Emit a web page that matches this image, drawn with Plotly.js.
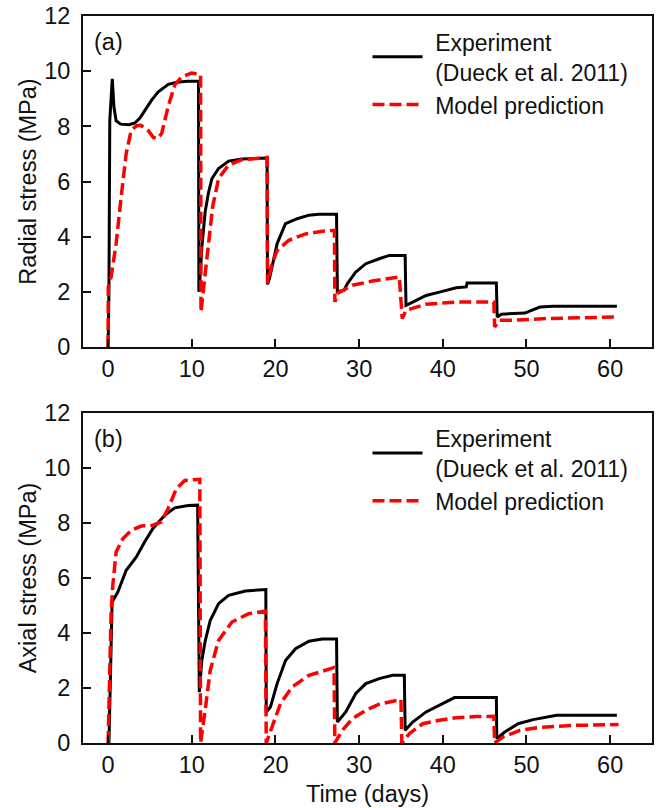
<!DOCTYPE html>
<html>
<head>
<meta charset="utf-8">
<script src="https://cdn.plot.ly/plotly-3.0.1.min.js"></script>
<style>
  html, body { margin: 0; padding: 0; background: #ffffff; }
  #chart { width: 659px; height: 808px; }
</style>
</head>
<body>
<div id="chart"></div>
<script>
// Radial stress (panel a): experiment vs model, time in days
const radialExpDays = [0, 0.1, 0.2, 0.3, 0.5, 0.7, 0.96, 1.5, 2.5, 3.2, 3.8, 4.4, 5.2, 6.0, 7.2, 8.2, 9.5, 10.8,
  10.85, 11.0, 11.2, 11.6, 12.0, 12.4, 13.2, 14.4, 16.0, 19.0,
  19.05, 19.3, 19.6, 20.2, 21.2, 22.6, 24.0, 25.2, 27.3,
  27.4, 28.2, 28.6, 29.6, 30.8, 32.4, 33.6, 35.5,
  35.6, 36.4, 38.0, 39.6, 41.6, 42.8, 42.9, 46.4,
  46.5, 47.0, 49.8, 50.6, 51.6, 53.2, 60.8];
const radialExpMPa = [0, 2.0, 8.2, 8.9, 9.72, 8.7, 8.2, 8.08, 8.06, 8.12, 8.3, 8.58, 8.95, 9.25, 9.52, 9.6, 9.63, 9.63,
  2.0, 2.6, 3.6, 4.9, 5.6, 6.1, 6.47, 6.74, 6.82, 6.85,
  2.27, 2.5, 2.9, 3.75, 4.47, 4.65, 4.78, 4.81, 4.81,
  2.0, 2.06, 2.3, 2.72, 3.02, 3.2, 3.32, 3.32,
  1.51, 1.63, 1.87, 1.99, 2.15, 2.18, 2.32, 2.32,
  1.09, 1.19, 1.23, 1.33, 1.45, 1.48, 1.48];

const radialModelDays = [0, 0.02, 0.36, 0.96, 1.56, 2.16, 2.76, 3.4, 3.9, 4.76, 5.4, 5.9, 6.4, 7.16, 7.96, 8.76, 9.96, 10.96,
  11.05, 11.1, 11.56, 12.0, 12.5, 13.2, 14.4, 16.0, 19.0,
  19.05, 19.6, 20.2, 21.6, 23.6, 25.6, 27.05,
  27.1, 27.4, 29.2, 31.6, 34.8,
  35.15, 35.6, 38.0, 41.6, 44.4, 46.1,
  46.2, 46.8, 48.4, 52.4, 61.0];
const radialModelMPa = [0, 2.18, 2.54, 3.75, 5.44, 7.01, 7.86, 8.02, 8.04, 7.86, 7.6, 7.56, 7.74, 8.7, 9.49, 9.79, 9.93, 9.89,
  9.85, 1.27, 2.54, 3.8, 5.1, 6.1, 6.6, 6.79, 6.87,
  2.3, 3.02, 3.5, 3.87, 4.1, 4.2, 4.23,
  1.63, 1.94, 2.24, 2.39, 2.54,
  1.03, 1.33, 1.55, 1.63, 1.63, 1.63,
  0.73, 0.97, 0.97, 1.03, 1.09];

// Axial stress (panel b)
const axialExpDays = [0.1, 0.3, 0.48, 1.16, 2.16, 3.36, 4.36, 5.36, 6.76, 7.96, 9.56, 10.7,
  10.9, 11.2, 11.6, 12.2, 13.2, 14.4, 16.4, 18.85,
  18.9, 19.4, 20.2, 21.2, 22.4, 24.0, 25.6, 27.3,
  27.4, 28.4, 29.6, 30.8, 32.4, 34.0, 35.4,
  35.5, 36.4, 38.0, 39.6, 41.4, 46.4,
  46.45, 47.4, 49.0, 50.8, 52.8, 53.6, 60.8];
const axialExpMPa = [0, 2.5, 5.13, 5.49, 6.28, 6.76, 7.31, 7.8, 8.28, 8.55, 8.64, 8.65,
  1.85, 3.0, 3.7, 4.45, 5.07, 5.37, 5.53, 5.58,
  1.13, 1.31, 2.16, 3.0, 3.43, 3.7, 3.78, 3.78,
  0.76, 1.13, 1.8, 2.16, 2.34, 2.46, 2.46,
  0.46, 0.76, 1.13, 1.37, 1.65, 1.65,
  0.16, 0.4, 0.7, 0.85, 0.95, 1.01, 1.01];

const axialModelDays = [0, 0.16, 0.36, 0.56, 0.96, 1.76, 2.76, 3.96, 5.36, 6.36, 7.16, 8.16, 9.16, 10.96,
  11.05, 11.6, 12.2, 13.2, 14.8, 16.8, 18.8,
  18.9, 19.6, 20.6, 22.0, 24.0, 27.0,
  27.1, 28.0, 29.2, 30.8, 32.4, 35.0,
  35.1, 36.0, 37.6, 39.6, 41.6, 44.0, 46.1,
  46.2, 47.2, 49.2, 51.6, 55.6, 61.0];
const axialModelMPa = [0, 2.58, 4.76, 5.73, 6.95, 7.43, 7.73, 7.89, 7.92, 8.04, 8.52, 9.25, 9.55, 9.59,
  0, 1.19, 2.64, 3.73, 4.4, 4.7, 4.8,
  0, 0.58, 1.43, 2.04, 2.46, 2.74,
  0, 0.46, 0.89, 1.19, 1.41, 1.58,
  0, 0.34, 0.7, 0.83, 0.92, 0.96, 0.97,
  0, 0.22, 0.46, 0.57, 0.64, 0.67];

const dayTicks = [0, 10, 20, 30, 40, 50, 60];
const stressTicks = [0, 2, 4, 6, 8, 10, 12];
// a three-per-em space keeps the legend text clear of the longer key lines
const PAD = '\u2004';
const expName = PAD + 'Experiment<br>' + PAD + '(Dueck et al. 2011)';
const modelName = PAD + 'Model prediction';

const FONT = 'Liberation Sans, Arial, sans-serif';
const INK = '#111111';
const SIZE = 23.5;

const expLine = { color: '#000000', width: 3 };
const modelLine = { color: '#ff0000', width: 3.5, dash: '12px,5px' };

const traces = [
  { x: radialExpDays, y: radialExpMPa, name: expName, mode: 'lines', line: expLine, xaxis: 'x', yaxis: 'y', legend: 'legend' },
  { x: radialModelDays, y: radialModelMPa, name: modelName, mode: 'lines', line: modelLine, xaxis: 'x', yaxis: 'y', legend: 'legend' },
  { x: axialExpDays, y: axialExpMPa, name: expName, mode: 'lines', line: expLine, xaxis: 'x2', yaxis: 'y2', legend: 'legend2' },
  { x: axialModelDays, y: axialModelMPa, name: modelName, mode: 'lines', line: modelLine, xaxis: 'x2', yaxis: 'y2', legend: 'legend2' }
];

function xAxis(anchor, withTitle) {
  const ax = {
    anchor: anchor, domain: [0, 1], range: [-3, 65],
    tickmode: 'array', tickvals: dayTicks, ticktext: dayTicks.map(String),
    ticks: 'inside', ticklen: 8, tickwidth: 2, tickcolor: INK,
    showline: true, linewidth: 2, linecolor: INK, mirror: true,
    showgrid: false, zeroline: false,
    tickfont: { family: FONT, size: SIZE, color: INK },
    ticklabelstandoff: 0
  };
  if (withTitle) ax.title = { text: 'Time (days)', font: { family: FONT, size: SIZE, color: INK }, standoff: 8 };
  return ax;
}

function yAxis(anchor, domain, title) {
  return {
    anchor: anchor, domain: domain, range: [0, 12],
    tickmode: 'array', tickvals: stressTicks, ticktext: stressTicks.map(String),
    ticks: 'inside', ticklen: 8, tickwidth: 2, tickcolor: INK,
    showline: true, linewidth: 2, linecolor: INK, mirror: true,
    showgrid: false, zeroline: false,
    tickfont: { family: FONT, size: SIZE, color: INK },
    ticklabelstandoff: 6,
    title: { text: title, font: { family: FONT, size: SIZE, color: INK }, standoff: 1 }
  };
}

function legendBox(yTop) {
  return {
    x: 0.5, y: yTop, xanchor: 'left', yanchor: 'top',
    bgcolor: 'rgba(0,0,0,0)', borderwidth: 0,
    font: { family: FONT, size: 23, color: INK },
    itemwidth: 50, tracegroupgap: 0, valign: 'middle'
  };
}

const layout = {
  width: 659, height: 808,
  margin: { l: 83, r: 7, t: 16, b: 65 },
  paper_bgcolor: '#ffffff', plot_bgcolor: '#ffffff',
  font: { family: FONT, size: SIZE, color: INK },
  showlegend: true,
  xaxis: xAxis('y', false),
  yaxis: yAxis('x', [0.5447, 1], 'Radial stress (MPa)'),
  xaxis2: xAxis('y2', true),
  yaxis2: yAxis('x2', [0, 0.4539], 'Axial stress (MPa)'),
  legend: legendBox(0.994),
  legend2: legendBox(0.449),
  annotations: [
    { text: '(a)', xref: 'x domain', yref: 'y domain', x: 0.015, y: 0.92, xanchor: 'left', yanchor: 'middle',
      showarrow: false, font: { family: FONT, size: SIZE, color: INK } },
    { text: '(b)', xref: 'x2 domain', yref: 'y2 domain', x: 0.015, y: 0.92, xanchor: 'left', yanchor: 'middle',
      showarrow: false, font: { family: FONT, size: SIZE, color: INK } }
  ]
};

Plotly.newPlot('chart', traces, layout, { displayModeBar: false, staticPlot: true });
</script>
</body>
</html>
